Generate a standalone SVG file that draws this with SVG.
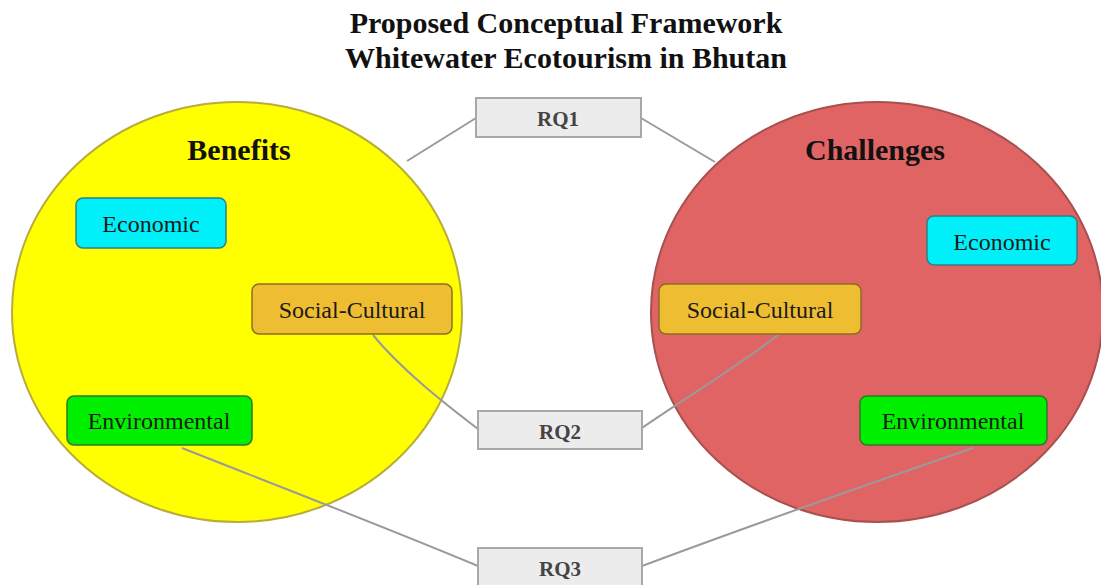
<svg xmlns="http://www.w3.org/2000/svg" width="1101" height="585" viewBox="0 0 1101 585">
<style>
.title{font-family:"Liberation Serif",serif;font-weight:bold;font-size:30px;fill:#111;text-anchor:middle}
.head{font-family:"Liberation Serif",serif;font-weight:bold;font-size:30px;fill:#111;text-anchor:middle}
.lbl{font-family:"Liberation Serif",serif;font-size:24px;text-anchor:middle;fill:#1a1a1a}
.rq rect{fill:#ececec;stroke:#a8a8a8;stroke-width:2}
.rq text{font-family:"Liberation Serif",serif;font-weight:bold;font-size:21px;fill:#444;text-anchor:middle}
.eco rect{fill:#00f0fa;stroke:#2f7f86;stroke-width:1.5}
.soc rect{fill:#efbd31;stroke:#8a6d22;stroke-width:1.5}
.env rect{fill:#00f000;stroke:#2c7a2c;stroke-width:1.5}
.conn path{fill:none;stroke:#9a9a9a;stroke-width:2}
</style>
<rect width="1101" height="585" fill="#ffffff"/>
<g id="title">
<text class="title" x="566" y="33">Proposed Conceptual Framework</text>
<text class="title" x="566" y="68">Whitewater Ecotourism in Bhutan</text>
</g>
<g id="benefits">
<ellipse cx="237" cy="312" rx="225" ry="210" fill="#ffff00" stroke="#b8ac3a" stroke-width="2"/>
<text class="head" x="239" y="160">Benefits</text>
</g>
<g id="challenges">
<ellipse cx="877" cy="312" rx="226" ry="210" fill="#e06464" stroke="#a85050" stroke-width="2"/>
<text class="head" x="875" y="160">Challenges</text>
</g>
<g id="connectors" class="conn">
<path d="M476,118 L407,161"/>
<path d="M641,118 L715,162"/>
<path d="M373,335 C400,368 440,400 478,429"/>
<path d="M642,428 C690,395 740,365 778,335"/>
<path d="M182,448 C250,475 380,525 478,566"/>
<path d="M642,566 C760,522 880,480 973,448"/>
</g>
<g id="rq1" class="rq"><rect x="476" y="98" width="165" height="39"/><text x="558" y="126">RQ1</text></g>
<g id="rq2" class="rq"><rect x="478" y="411" width="164" height="38"/><text x="560" y="439">RQ2</text></g>
<g id="rq3" class="rq"><rect x="478" y="548" width="164" height="38"/><text x="560" y="576">RQ3</text></g>
<g id="b-economic" class="eco"><rect x="76" y="198" width="150" height="50" rx="7"/><text class="lbl" x="151" y="232">Economic</text></g>
<g id="b-social" class="soc"><rect x="252" y="284" width="200" height="50" rx="7"/><text class="lbl" x="352" y="318">Social-Cultural</text></g>
<g id="b-environmental" class="env"><rect x="67" y="396" width="185" height="49" rx="7"/><text class="lbl" x="159" y="429">Environmental</text></g>
<g id="c-economic" class="eco"><rect x="927" y="216" width="150" height="49" rx="7"/><text class="lbl" x="1002" y="250">Economic</text></g>
<g id="c-social" class="soc"><rect x="659" y="284" width="202" height="50" rx="7"/><text class="lbl" x="760" y="318">Social-Cultural</text></g>
<g id="c-environmental" class="env"><rect x="860" y="396" width="187" height="49" rx="7"/><text class="lbl" x="953" y="429">Environmental</text></g>
</svg>
